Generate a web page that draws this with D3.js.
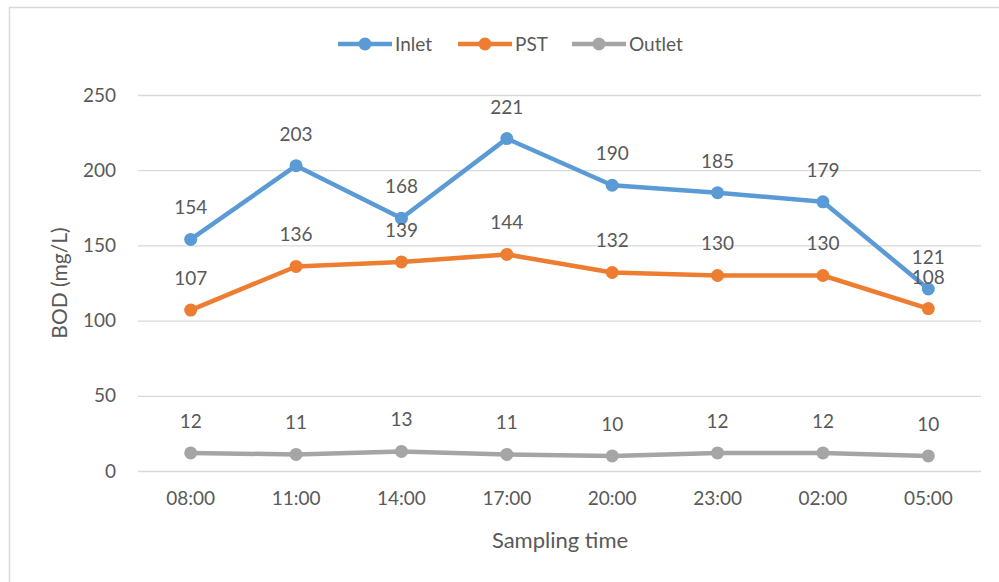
<!DOCTYPE html>
<html><head><meta charset="utf-8">
<script src="https://cdn.jsdelivr.net/npm/d3@7"></script>
<style>body{margin:0;background:#fff;}svg{display:block;font-family:Lato,"Open Sans",sans-serif;}</style>
</head><body>
<svg id="c" width="999" height="582"></svg>
<script>
const categories = ["08:00","11:00","14:00","17:00","20:00","23:00","02:00","05:00"];
const inlet = [154,203,168,221,190,185,179,121];
const pst = [107,136,139,144,132,130,130,108];
const outlet = [12,11,13,11,10,12,12,10];
const yTicks = [0,50,100,150,200,250];
const seriesNames = ["Inlet","PST","Outlet"];
const seriesColors = ["#5b9bd5","#ed7d31","#a5a5a5"];

const svg = d3.select("#c");
svg.append("rect").attr("x",9.5).attr("y",7.5).attr("width",1000).attr("height",600)
  .attr("fill","#fff").attr("stroke","#d9d9d9").attr("stroke-width",1.5);

const L=138,R=981,T=95,B=471;
const x = d3.scaleBand().domain(categories).range([L,R]);
const y = d3.scaleLinear().domain([0,250]).range([B,T]);

const gy = svg.append("g").attr("transform",`translate(${L},0)`)
  .call(d3.axisLeft(y).tickValues(yTicks).tickSize(-(R-L)).tickPadding(22));
gy.select(".domain").remove();
gy.selectAll(".tick line").attr("stroke","#d9d9d9").attr("stroke-width",1.3);
gy.selectAll(".tick text").attr("fill","#595959").style("font-size","19px").style("font-family","Lato,sans-serif");

const gx = svg.append("g").attr("transform",`translate(0,${B})`)
  .call(d3.axisBottom(x).tickSize(0).tickPadding(21));
gx.select(".domain").remove();
gx.selectAll(".tick text").attr("fill","#595959").style("font-size","19px").style("font-family","Lato,sans-serif");

svg.append("text").attr("transform",`translate(67,283) rotate(-90)`).attr("text-anchor","middle")
  .attr("fill","#595959").style("font-size","21px").text("BOD (mg/L)");
svg.append("text").attr("x",560).attr("y",548).attr("text-anchor","middle")
  .attr("fill","#595959").style("font-size","22px").text("Sampling time");

const all = [inlet,pst,outlet];
const line = d3.line().x((d,i)=>x(categories[i])+x.bandwidth()/2).y(d=>y(d));
all.forEach((vals,si)=>{
  const g = svg.append("g");
  g.append("path").datum(vals).attr("d",line).attr("fill","none")
    .attr("stroke",seriesColors[si]).attr("stroke-width",4.5).attr("stroke-linejoin","round");
  g.selectAll("circle").data(vals).join("circle")
    .attr("cx",(d,i)=>x(categories[i])+x.bandwidth()/2).attr("cy",d=>y(d)).attr("r",6.5)
    .attr("fill",seriesColors[si]);
});
all.forEach((vals,si)=>{
  svg.append("g").selectAll("text").data(vals).join("text")
    .attr("x",(d,i)=>x(categories[i])+x.bandwidth()/2).attr("y",d=>y(d)-25)
    .attr("text-anchor","middle").attr("fill","#595959").style("font-size","19px").text(d=>d);
});

// legend
const legX = [338,458,572];
seriesNames.forEach((n,i)=>{
  const g = svg.append("g").attr("transform",`translate(${legX[i]},44)`);
  g.append("line").attr("x1",0).attr("x2",54).attr("stroke",seriesColors[i]).attr("stroke-width",4.5);
  g.append("circle").attr("cx",27).attr("r",6.5).attr("fill",seriesColors[i]);
  g.append("text").attr("x",57).attr("y",7).attr("fill","#595959").style("font-size","19px").text(n);
});
</script>
</body></html>
